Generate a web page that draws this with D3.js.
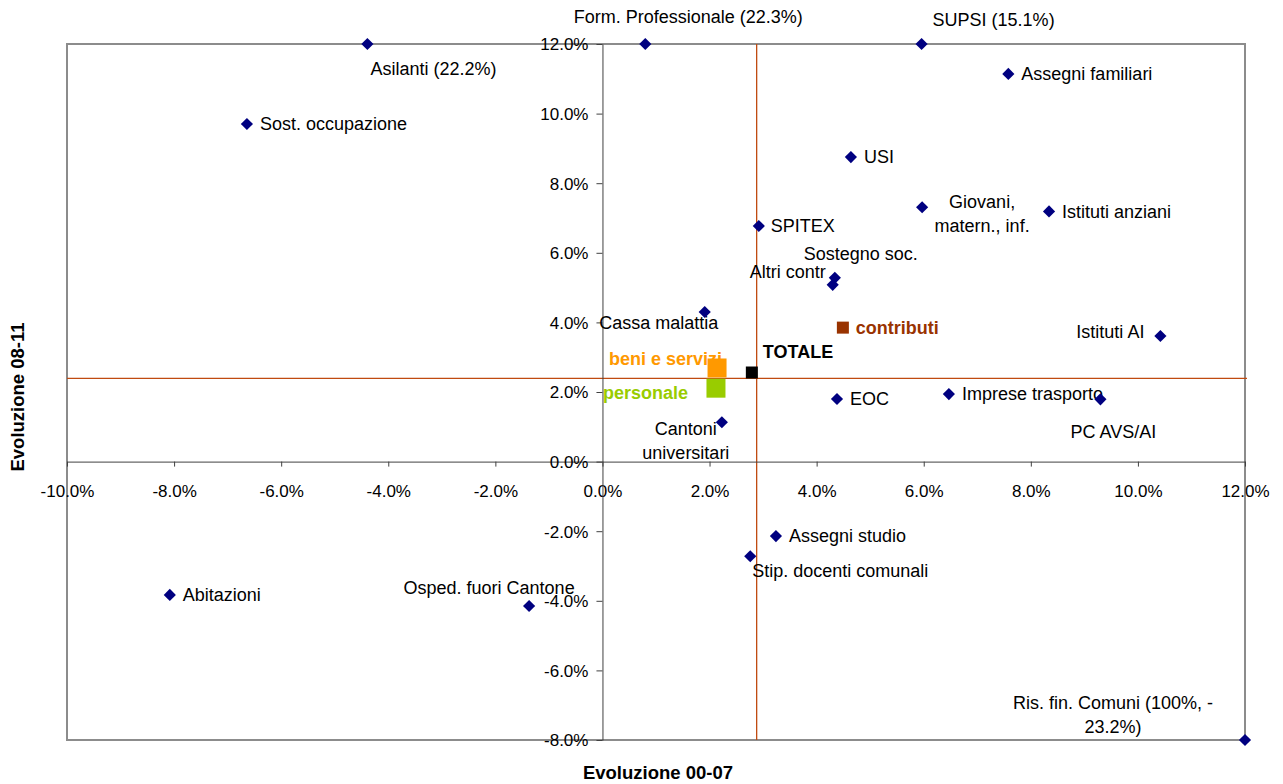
<!DOCTYPE html>
<html>
<head>
<meta charset="utf-8">
<script src="https://cdn.jsdelivr.net/npm/d3@7"></script>
<style>
  html, body { margin: 0; padding: 0; background: #fff; }
  svg { display: block; font-family: "Liberation Sans", Arial, sans-serif; }
</style>
</head>
<body>
<svg id="chart" width="1283" height="784"></svg>
<script>
// Items: growth 2000-07 (x, %) and growth 2008-11 (y, %)
const itemNames = [
  "Asilanti (22.2%)", "Form. Professionale (22.3%)", "SUPSI (15.1%)", "Assegni familiari",
  "Sost. occupazione", "USI", "Giovani,\nmatern., inf.", "Istituti anziani", "SPITEX",
  "Sostegno soc.", "Altri contr", "Cassa malattia", "Istituti AI", "EOC",
  "Imprese trasporto", "PC AVS/AI", "Cantoni\nuniversitari", "Assegni studio",
  "Stip. docenti comunali", "Abitazioni", "Osped. fuori Cantone",
  "Ris. fin. Comuni (100%, -\n23.2%)"
];
const itemEvo0007 = [
  -4.39, 0.80, 5.96, 7.58, -6.64, 4.64, 5.97, 8.34, 2.92, 4.34, 4.30, 1.91,
  10.42, 4.38, 6.47, 9.30, 2.23, 3.24, 2.76, -8.08, -1.37, 12.0
];
const itemEvo0811 = [
  12.0, 12.0, 12.0, 11.14, 9.70, 8.75, 7.31, 7.19, 6.77, 5.28, 5.08, 4.30,
  3.61, 1.80, 1.94, 1.79, 1.13, -2.14, -2.72, -3.83, -4.15, -8.0
];

// Spending groups
const groupNames = ["personale", "beni e servizi", "contributi", "TOTALE"];
const groupEvo0007 = [2.12, 2.14, 4.49, 2.79];
const groupEvo0811 = [2.11, 2.69, 3.85, 2.56];

// Reference lines (overall growth)
const refEvo0007 = 2.88;
const refEvo0811 = 2.39;

// Axis ticks
const xTicks = [-10, -8, -6, -4, -2, 0, 2, 4, 6, 8, 10, 12];
const yTicks = [-8, -6, -4, -2, 0, 2, 4, 6, 8, 10, 12];

// Label placement relative to each marker: [dx, dy, anchor]
const itemLabelPos = [
  [3, 25, "start"], [43, -27, "middle"], [11, -24, "start"], [13, 0, "start"],
  [13, 0, "start"], [13, 0, "start"], [60, -6, "middle"], [13, 0, "start"],
  [12, 0, "start"], [26, -24, "middle"], [-7, -13, "end"], [-46, 11, "middle"],
  [-16, -4, "end"], [13, 0, "start"], [13, 0, "start"], [13, 32, "middle"],
  [-36, 6, "middle"], [13, 0, "start"], [2, 14, "start"], [13, 0, "start"],
  [-40, -18, "middle"], [-132, -37, "middle"]
];
const groupLabelPos = [[-113, 5, "start"], [-108, -9, "start"], [13, 0, "start"], [11, -21, "start"]];
const groupColors = ["#99CC00", "#FF9900", "#993300", "#000000"];
const groupSizes = [19, 19, 12, 12];

const svg = d3.select("#chart");
const x = d3.scaleLinear().domain([-10, 12]).range([67, 1245]);
const y = d3.scaleLinear().domain([-8, 12]).range([740, 44]);
// Percent labels with a plain hyphen for negatives
const pct = v => (v < 0 ? "-" : "") + Math.abs(v).toFixed(1) + "%";
const tickFont = 17;
const labelFont = 18;

// Plot frame
svg.append("rect")
  .attr("x", x(-10)).attr("y", y(12))
  .attr("width", x(12) - x(-10)).attr("height", y(-8) - y(12))
  .attr("fill", "none").attr("stroke", "#8c8c8c").attr("stroke-width", 2);

// Reference lines
svg.append("line")
  .attr("x1", x(refEvo0007)).attr("x2", x(refEvo0007))
  .attr("y1", y(12)).attr("y2", y(-8))
  .attr("stroke", "#C04A10").attr("stroke-width", 1.3);
svg.append("line")
  .attr("x1", x(-10)).attr("x2", x(12) + 2)
  .attr("y1", y(refEvo0811)).attr("y2", y(refEvo0811))
  .attr("stroke", "#C04A10").attr("stroke-width", 1.3);

// X axis through y = 0
const xAxis = svg.append("g")
  .attr("transform", `translate(0,${y(0)})`)
  .call(d3.axisBottom(x).tickValues(xTicks).tickSize(5).tickSizeOuter(0).tickFormat(pct));
xAxis.select(".domain").attr("stroke", "#404040");
xAxis.selectAll(".tick line").attr("stroke", "#404040");
xAxis.selectAll(".tick text")
  .attr("y", 29).attr("dy", "0.35em")
  .attr("fill", "#000").style("font-size", tickFont + "px")
  .style("font-family", "'Liberation Sans', Arial, sans-serif");

// Y axis through x = 0
const yAxis = svg.append("g")
  .attr("transform", `translate(${x(0)},0)`)
  .call(d3.axisLeft(y).tickValues(yTicks).tickSize(6).tickSizeOuter(0).tickFormat(pct));
yAxis.select(".domain").attr("stroke", "#404040");
yAxis.selectAll(".tick line").attr("stroke", "#404040");
yAxis.selectAll(".tick text")
  .attr("x", -14).attr("dy", "0.35em")
  .attr("fill", "#000").style("font-size", tickFont + "px")
  .style("font-family", "'Liberation Sans', Arial, sans-serif");

// Axis titles
svg.append("text")
  .attr("x", 658).attr("y", 773).attr("dy", "0.35em")
  .attr("text-anchor", "middle")
  .style("font-size", "18.5px").style("font-weight", "bold")
  .text("Evoluzione 00-07");
svg.append("text")
  .attr("transform", "translate(18,397) rotate(-90)")
  .attr("dy", "0.35em")
  .attr("text-anchor", "middle")
  .style("font-size", "18.5px").style("font-weight", "bold")
  .text("Evoluzione 08-11");

// Item labels
const items = itemNames.map((n, i) => ({ name: n, vx: itemEvo0007[i], vy: itemEvo0811[i], pos: itemLabelPos[i] }));
const itemLabels = svg.append("g").selectAll("text").data(items).join("text")
  .attr("text-anchor", d => d.pos[2])
  .style("font-size", labelFont + "px")
  .attr("fill", "#000");
itemLabels.each(function(d) {
  const lines = d.name.split("\n");
  const el = d3.select(this);
  const lh = 24;
  lines.forEach((ln, k) => {
    el.append("tspan")
      .attr("x", x(d.vx) + d.pos[0])
      .attr("y", y(d.vy) + d.pos[1] + k * lh)
      .attr("dy", "0.35em")
      .text(ln);
  });
});

// Item markers (diamonds)
const diamond = d3.symbol().type(d3.symbolSquare).size(74);
svg.append("g").selectAll("path").data(items).join("path")
  .attr("d", diamond)
  .attr("transform", d => `translate(${x(d.vx)},${y(d.vy)}) rotate(45)`)
  .attr("fill", "#000080");

// Group labels
const groups = groupNames.map((n, i) => ({
  name: n, vx: groupEvo0007[i], vy: groupEvo0811[i],
  pos: groupLabelPos[i], color: groupColors[i], size: groupSizes[i]
}));
svg.append("g").selectAll("text").data(groups).join("text")
  .attr("x", d => x(d.vx) + d.pos[0])
  .attr("y", d => y(d.vy) + d.pos[1])
  .attr("dy", "0.35em")
  .attr("text-anchor", d => d.pos[2])
  .attr("fill", d => d.color)
  .style("font-size", labelFont + "px")
  .style("font-weight", "bold")
  .text(d => d.name);

// Group markers (squares)
svg.append("g").selectAll("rect").data(groups).join("rect")
  .attr("x", d => x(d.vx) - d.size / 2)
  .attr("y", d => y(d.vy) - d.size / 2)
  .attr("width", d => d.size)
  .attr("height", d => d.size)
  .attr("fill", d => d.color);
</script>
</body>
</html>
